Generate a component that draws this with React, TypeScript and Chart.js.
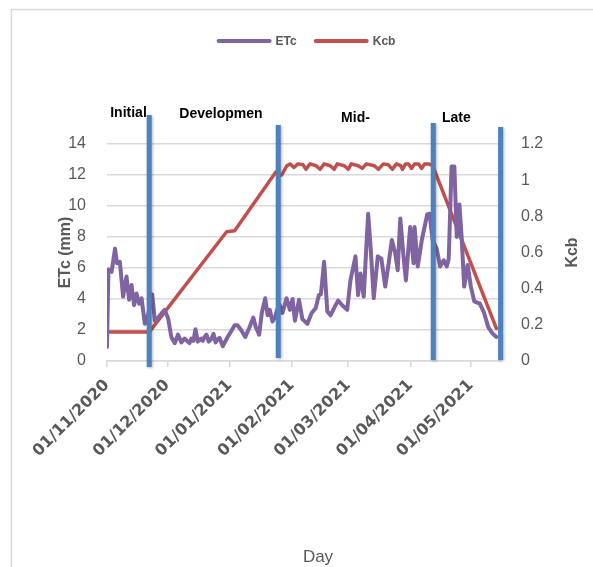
import React, { useEffect, useRef } from "react";
import { Chart, registerables } from "chart.js";

Chart.register(...registerables);

// ETc (mm) – vertices, x = days since 01/11/2020
const etcDays = [
  0, 0.7, 2.3, 4, 5, 6.4, 8, 9.7, 11, 12.2, 13.5, 14.7, 16, 17.2, 18.8, 20.5, 22.5, 23.8, 25.5, 27.3,
  28.7, 30.4, 32, 33.7, 35.3, 37, 38.6, 40.2, 41, 42, 43, 44, 45.2, 46.9, 47.7, 48.5, 49.5, 50.6, 51.8,
  53, 54, 55, 56, 57.6, 60, 61.7,
  63.5, 65, 66.7, 68.8, 70.8, 72.8, 74, 75.7, 77, 78.7, 79.9, 81, 82.3, 83.5, 85.6, 87.3, 89.3, 91,
  92.3, 93.5, 95.5, 97.2, 99.7, 101.8, 103.8, 105.4, 106.4, 108, 109.6, 111.2, 113.7, 115, 117, 119.5,
  121.1, 123.6, 124.9, 126.1, 127.7, 129.9, 131, 132.7, 134.7, 136.5, 138.4, 140.1, 141.7, 143.4,
  144.6, 145.9, 147.5, 148.7, 150.8, 152.5, 153, 154.6, 156.6, 159.3, 160.5, 162, 164, 165.7, 167.5,
  169, 170, 171.4, 172.8, 174, 175.3, 176.4, 177.7, 179.4, 181, 182.7, 185.5, 187.6, 189.6, 191.6, 193.7,
];
const etcValues = [
  0.9, 5.9, 5.75, 7.25, 6.3, 6.4, 4.15, 5.45, 3.95, 4.9, 3.6, 4.35, 3.7, 4.05, 2.4, 3.0, 4.3, 2.6, 2.8, 3.1,
  3.3, 2.75, 1.55, 1.15, 1.7, 1.2, 1.45, 1.25, 1.15, 1.45, 1.3, 2.05, 1.25, 1.45, 1.3, 1.55, 1.7, 1.25, 1.4,
  1.75, 1.2, 1.4, 1.5, 0.95, 1.55, 1.9,
  2.3, 2.3, 2.0, 1.55, 2.15, 2.8, 2.2, 1.7, 3.1, 4.05, 2.95, 3.3, 2.55, 2.8, 3.7, 3.1, 4.05, 3.3,
  4.0, 2.6, 3.95, 2.7, 2.4, 3.1, 3.4, 4.25, 4.3, 6.4, 3.2, 2.95, 3.6, 3.9, 3.6, 3.3,
  5.2, 6.75, 4.25, 5.65, 4.15, 9.5, 7.6, 4.05, 6.75, 6.6, 4.8, 6.3, 7.8, 6.95,
  5.85, 9.2, 6.75, 5.2, 8.65, 6.3, 8.65, 6.1, 7.8, 9.45, 9.5, 7.8, 7.25, 6.1, 6.5,
  6.1, 6.6, 12.55, 12.55, 8.0, 10.1, 8.0, 4.8, 6.2, 4.8, 3.85, 3.7, 3.1, 2.2, 1.8, 1.55,
];

// Kcb – vertices
const kcbDays = [
  0, 21, 59.5, 63.5, 84, 85.5, 87, 89.5, 91, 93, 95, 97.5, 99, 101, 104, 106, 108, 111, 113, 114.5,
  118, 120, 121.5, 125, 127, 129, 133, 135, 137.5, 140, 142, 144, 146, 147, 148.5, 150, 151.5, 153,
  155, 156.5, 158, 160, 162, 193.7,
];
const kcbValues = [
  0.16, 0.16, 0.715, 0.72, 1.045, 1.025, 1.03, 1.08, 1.09, 1.07, 1.09, 1.085, 1.06, 1.09, 1.08, 1.06, 1.09, 1.08, 1.06, 1.09,
  1.08, 1.06, 1.09, 1.08, 1.065, 1.09, 1.08, 1.06, 1.09, 1.085, 1.06, 1.09, 1.08, 1.06, 1.09, 1.09, 1.065, 1.09,
  1.09, 1.065, 1.09, 1.09, 1.08, 0.18,
];

const monthTickDays = [0, 30, 61, 92, 120, 151, 181];
const monthTickLabels = [
  "01/11/2020",
  "01/12/2020",
  "01/01/2021",
  "01/02/2021",
  "01/03/2021",
  "01/04/2021",
  "01/05/2021",
];

const phaseNames = ["Initial", "Developmen", "Mid-", "Late"];
const phaseLabelDays = [10.7, 56.7, 123.6, 173.8];
const phaseLabelLevels = [16.0, 15.94, 15.68, 15.68];
const phaseLineDays = [21, 85.2, 162.3, 195.8];
const phaseLineTops = [15.87, 15.23, 15.35, 15.1];
const phaseLineBottoms = [-0.39, 0.19, 0.06, 0.06];

const GREY = "#595959";
const GRID = "#d9d9d9";

const decoPlugin = {
  id: "deco",
  afterDatasetsDraw(chart: any) {
    const { ctx, scales } = chart;
    const x = scales.x;
    const y = scales.y;
    ctx.save();
    ctx.strokeStyle = "#4F81BD";
    ctx.lineWidth = 5;
    ctx.shadowColor = "rgba(0,0,0,0.3)";
    ctx.shadowBlur = 3;
    ctx.shadowOffsetX = 1;
    ctx.shadowOffsetY = 1;
    phaseLineDays.forEach((d, i) => {
      const px = x.getPixelForValue(d);
      ctx.beginPath();
      ctx.moveTo(px, y.getPixelForValue(phaseLineTops[i]));
      ctx.lineTo(px, y.getPixelForValue(phaseLineBottoms[i]));
      ctx.stroke();
    });
    ctx.restore();

    ctx.save();
    ctx.font = 'bold 14px "Liberation Sans"';
    ctx.fillStyle = "#000";
    ctx.textAlign = "center";
    ctx.textBaseline = "middle";
    phaseNames.forEach((n, i) => {
      ctx.fillText(n, x.getPixelForValue(phaseLabelDays[i]), y.getPixelForValue(phaseLabelLevels[i]));
    });
    ctx.restore();
  },
  afterDraw(chart: any) {
    const { ctx, chartArea } = chart;
    ctx.save();
    // outer border
    ctx.strokeStyle = GRID;
    ctx.lineWidth = 1.5;
    ctx.strokeRect(11.5, 9.5, 700, 700);

    // legend
    ctx.font = 'bold 12px "Liberation Sans"';
    ctx.textBaseline = "middle";
    ctx.textAlign = "left";
    const ds = chart.data.datasets;
    const lineLen = 55;
    const gap = 4;
    const itemGap = 17;
    const widths = ds.map((d: any) => lineLen + gap + ctx.measureText(d.label).width);
    const total = widths.reduce((a: number, b: number) => a + b, 0) + itemGap * (ds.length - 1);
    let cx = 306 - total / 2;
    const ly = 41;
    ds.forEach((d: any, i: number) => {
      ctx.strokeStyle = d.borderColor;
      ctx.lineWidth = 4;
      ctx.lineCap = "round";
      ctx.beginPath();
      ctx.moveTo(cx + 2, ly);
      ctx.lineTo(cx + lineLen - 2, ly);
      ctx.stroke();
      ctx.fillStyle = GREY;
      ctx.fillText(d.label, cx + lineLen + gap, ly + 1);
      cx += widths[i] + itemGap;
    });

    // right axis title (reads bottom to top)
    ctx.font = 'bold 16px "Liberation Sans"';
    ctx.fillStyle = GREY;
    ctx.textAlign = "center";
    ctx.textBaseline = "middle";
    ctx.translate(573, (chartArea.top + chartArea.bottom) / 2);
    ctx.rotate(-Math.PI / 2);
    ctx.fillText("Kcb", 0, 0);
    ctx.restore();

    // x axis title
    ctx.save();
    ctx.font = '17px "Liberation Sans"';
    ctx.fillStyle = GREY;
    ctx.textAlign = "center";
    ctx.textBaseline = "middle";
    ctx.fillText("Day", 318, 557);
    ctx.restore();
  },
};

export default function App() {
  const ref = useRef<HTMLCanvasElement | null>(null);

  useEffect(() => {
    if (!ref.current) return;
    const chart = new Chart(ref.current, {
      type: "line",
      data: {
        datasets: [
          {
            label: "ETc",
            data: etcDays.map((d, i) => ({ x: d, y: etcValues[i] })),
            borderColor: "#8064A2",
            backgroundColor: "#8064A2",
            borderWidth: 4,
            pointRadius: 0,
            tension: 0,
            yAxisID: "y",
            borderJoinStyle: "round",
            borderCapStyle: "round",
          },
          {
            label: "Kcb",
            data: kcbDays.map((d, i) => ({ x: d, y: kcbValues[i] })),
            borderColor: "#C0504D",
            backgroundColor: "#C0504D",
            borderWidth: 3.5,
            pointRadius: 0,
            tension: 0,
            yAxisID: "y1",
            borderJoinStyle: "round",
            borderCapStyle: "round",
          },
        ],
      },
      options: {
        responsive: false,
        animation: false,
        devicePixelRatio: 1,
        layout: { padding: { left: 54, right: 10, top: 144, bottom: 0 } },
        plugins: {
          legend: { display: false },
          tooltip: { enabled: false },
        },
        scales: {
          x: {
            type: "linear",
            min: 0,
            max: 196,
            afterBuildTicks: (scale: any) => {
              scale.ticks = monthTickDays.map((v) => ({ value: v }));
            },
            afterFit: (scale: any) => {
              scale.height = 206;
            },
            ticks: {
              autoSkip: false,
              minRotation: 45,
              maxRotation: 45,
              padding: 9,
              color: GREY,
              font: { family: '"DejaVu Sans"', size: 16, weight: "bold" },
              callback: (value: any) => {
                const i = monthTickDays.indexOf(Number(value));
                return i >= 0 ? monthTickLabels[i] : "";
              },
            },
            grid: {
              display: true,
              drawOnChartArea: false,
              drawTicks: true,
              tickLength: 6,
              color: GRID,
              lineWidth: 1.5,
            },
            border: { display: true, color: GRID, width: 1.5 },
          },
          y: {
            type: "linear",
            position: "left",
            min: 0,
            max: 14,
            afterFit: (scale: any) => {
              scale.width = 53;
            },
            ticks: {
              stepSize: 2,
              padding: 21,
              color: GREY,
              font: { family: '"Liberation Sans"', size: 16 },
            },
            grid: { color: GRID, lineWidth: 1.5, drawTicks: false },
            border: { display: false },
            title: {
              display: true,
              text: "ETc (mm)",
              color: GREY,
              padding: { top: 2, bottom: 0 },
              font: { family: '"Liberation Sans"', size: 16, weight: "bold" },
            },
          },
          y1: {
            type: "linear",
            position: "right",
            min: 0,
            max: 1.2,
            afterFit: (scale: any) => {
              scale.width = 82;
            },
            ticks: {
              stepSize: 0.2,
              padding: 20,
              color: GREY,
              font: { family: '"Liberation Sans"', size: 16 },
              callback: (v: any) => String(Number(Number(v).toFixed(1))),
            },
            grid: { display: false, drawTicks: false },
            border: { display: false },
          },
        },
      },
      plugins: [decoPlugin],
    } as any);
    return () => chart.destroy();
  }, []);

  return (
    <div style={{ position: "absolute", left: 0, top: 0, width: 593, height: 567, background: "#fff" }}>
      <canvas ref={ref} width={593} height={567} style={{ display: "block" }} />
    </div>
  );
}
